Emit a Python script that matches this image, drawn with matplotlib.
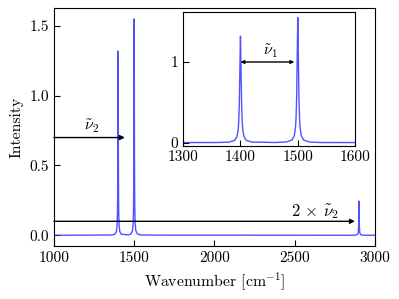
import matplotlib
matplotlib.use('Agg')
import matplotlib.pyplot as plt

plt.rcParams['font.family'] = 'serif'
plt.rcParams['font.serif'] = ['cmr10', 'DejaVu Serif']
plt.rcParams['mathtext.fontset'] = 'cm'
plt.rcParams['axes.formatter.use_mathtext'] = True
plt.rcParams['font.size'] = 11

# spectrum points (wavenumber, intensity)
wavenumber = [1000, 1360,
              1380, 1390, 1394, 1396, 1397, 1398, 1399, 1400, 1401, 1402, 1403, 1404, 1406, 1410, 1420,
              1440,
              1460, 1480, 1490, 1494, 1496, 1497, 1498, 1499, 1500, 1501, 1502, 1503, 1504, 1506, 1510, 1520, 1540,
              1700,
              2860, 2880, 2890, 2894, 2896, 2897, 2898, 2899, 2900, 2901, 2902, 2903, 2904, 2906, 2910, 2920, 2940,
              3000]
intensity = [0.0, 0.002,
             0.007, 0.029, 0.078, 0.16, 0.26, 0.48, 0.91, 1.32, 0.91, 0.48, 0.26, 0.16, 0.078, 0.029, 0.007,
             0.006,
             0.002, 0.009, 0.034, 0.09, 0.19, 0.31, 0.56, 1.07, 1.55, 1.07, 0.56, 0.31, 0.19, 0.09, 0.034, 0.009,
             0.002,
             0.001,
             0.0, 0.001, 0.005, 0.014, 0.03, 0.048, 0.086, 0.17, 0.245, 0.17, 0.086, 0.048, 0.03, 0.014, 0.005,
             0.001, 0.0,
             0.0]

main_xticks = [1000, 1500, 2000, 2500, 3000]
main_yticks = [0.0, 0.5, 1.0, 1.5]
inset_xticks = [1300, 1400, 1500, 1600]
inset_yticks = [0, 1]

line_color = (0.2, 0.2, 1.0)

fig = plt.figure(figsize=(3.99, 2.99), dpi=100)
ax = fig.add_axes([0.135, 0.177, 0.805, 0.796])
ax.plot(wavenumber, intensity, color=line_color, lw=1.0, alpha=0.85)
ax.set_xlim(1000, 3000)
ax.set_ylim(-0.0775, 1.6275)
ax.set_xticks(main_xticks)
ax.set_yticks(main_yticks)
ax.set_xticklabels([str(t) for t in main_xticks])
ax.set_yticklabels(['%.1f' % t for t in main_yticks])
ax.tick_params(direction='in', length=4, top=False, right=False)
ax.set_xlabel(r'Wavenumber [cm$^{-1}$]', fontsize=11.3)
ax.set_ylabel('Intensity', fontsize=11.3)

# arrows on main axes
ax.annotate('', xy=(1442, 0.7), xytext=(1000, 0.7),
            arrowprops=dict(arrowstyle='-|>', color='k', lw=1.0, mutation_scale=7,
                            shrinkA=0, shrinkB=0))
ax.text(1235, 0.78, r'$\tilde{\nu}_2$', ha='center', va='center', fontsize=11.5)
ax.annotate('', xy=(2875, 0.1), xytext=(1000, 0.1),
            arrowprops=dict(arrowstyle='-|>', color='k', lw=1.0, mutation_scale=7,
                            shrinkA=0, shrinkB=0))
ax.text(2626, 0.17, r'$2\,\times\,\tilde{\nu}_2$', ha='center', va='center', fontsize=12)

# inset
axin = fig.add_axes([0.459, 0.512, 0.431, 0.448])
axin.plot(wavenumber, intensity, color=line_color, lw=1.0, alpha=0.85)
axin.set_xlim(1300, 1600)
axin.set_ylim(-0.04, 1.62)
axin.set_xticks(inset_xticks)
axin.set_yticks(inset_yticks)
axin.set_xticklabels([str(t) for t in inset_xticks])
axin.set_yticklabels([str(t) for t in inset_yticks])
axin.tick_params(direction='in', length=4, top=False, right=False)
axin.annotate('', xy=(1494, 1.0), xytext=(1400, 1.0),
              arrowprops=dict(arrowstyle='<|-|>', color='k', lw=1.0, mutation_scale=5,
                              shrinkA=0, shrinkB=0))
axin.text(1453, 1.13, r'$\tilde{\nu}_1$', ha='center', va='center', fontsize=11.5)

fig.savefig('out.png', dpi=100)
